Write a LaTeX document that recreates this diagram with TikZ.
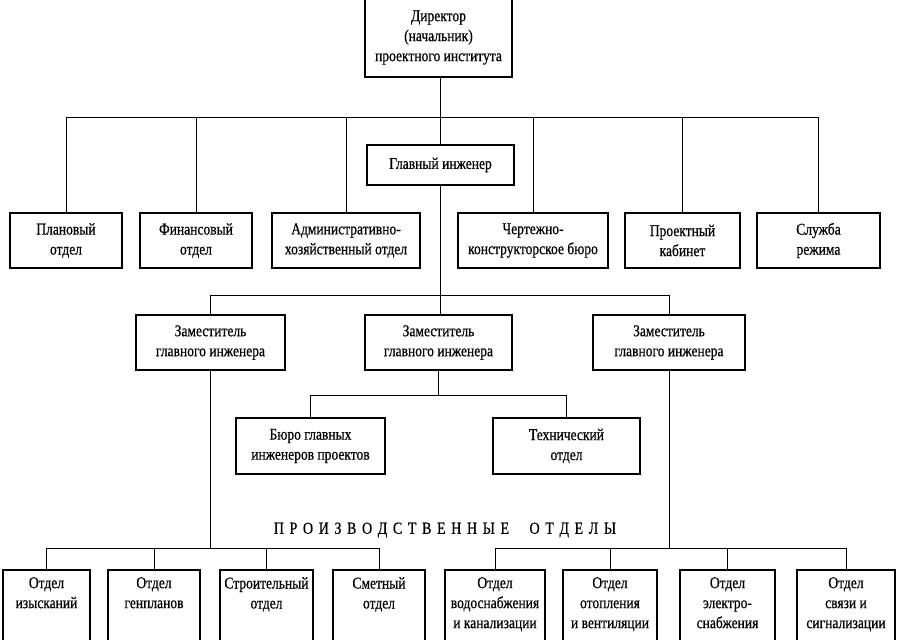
\documentclass[tikz,border=0pt]{standalone}
\usepackage{fontspec}
\setmainfont[FakeStretch=0.82,FakeBold=0.6]{Liberation Serif}
\begin{document}
\begin{tikzpicture}[x=1pt,y=-1pt,
  box/.style={draw, line width=1.1pt, align=center, inner sep=1pt, font=\fontsize{16.5}{20}\selectfont},
  txt/.style={align=center, inner sep=0pt, font=\fontsize{16.5}{20}\selectfont},
  ln/.style={line width=0.8pt}]
\useasboundingbox (0,0) rectangle (900,640);
\newcommand{\bx}[6]{\node[box, minimum width=#3-#2, minimum height=#5-#4] (#1) at ({(#2+#3)/2},{(#4+#5)/2}) {#6};}
\newcommand{\bt}[4]{\node[box, minimum width=#3-#2, minimum height=80] (#1) at ({(#2+#3)/2},610) {};
  \node[txt, anchor=north] (#1t) at ({(#2+#3)/2},577) {#4};}
\bx{dir}{365}{512}{-2}{77}{Директор\\(начальник)\\проектного института}
\bx{gi}{367}{514}{145}{185}{Главный инженер}
\bx{p1}{10}{122}{213}{268}{Плановый\\отдел}
\bx{p2}{140}{252}{213}{268}{Финансовый\\отдел}
\bx{p3}{272}{420}{213}{268}{Административно-\\хозяйственный отдел}
\bx{p4}{458}{608}{213}{268}{Чертежно-\\конструкторское бюро}
\bx{p5}{625}{740}{213}{268}{Проектный\\кабинет}
\bx{p6}{757}{880}{213}{268}{Служба\\режима}
\bx{z1}{136}{285}{315}{370}{Заместитель\\главного инженера}
\bx{z2}{365}{512}{315}{370}{Заместитель\\главного инженера}
\bx{z3}{593}{745}{315}{370}{Заместитель\\главного инженера}
\bx{b1}{236}{385}{418}{474}{Бюро главных\\инженеров проектов}
\bx{b2}{493}{640}{418}{474}{Технический\\отдел}
\bt{d1}{3}{90}{Отдел\\изысканий}
\bt{d2}{108}{200}{Отдел\\генпланов}
\bt{d3}{220}{313}{Строительный\\отдел}
\bt{d4}{333}{425}{Сметный\\отдел}
\bt{d5}{445}{545}{Отдел\\водоснабжения\\и канализации}
\bt{d6}{563}{657}{Отдел\\отопления\\и вентиляции}
\bt{d7}{680}{775}{Отдел\\электро-\\снабжения}
\bt{d8}{797}{895}{Отдел\\связи и\\сигнализации}
\node[font=\fontsize{17}{20}\selectfont] (po) at (445,530) {П\,\,Р\,\,О\,\,И\,\,З\,\,В\,\,О\,\,Д\,\,С\,\,Т\,\,В\,\,Е\,\,Н\,\,Н\,\,Ы\,\,Е\quad\ О\,\,Т\,\,Д\,\,Е\,\,Л\,\,Ы};
\coordinate (c1) at (440,77);
\coordinate (h1) at (440,117);
\draw[ln] (c1) -- (c1 |- gi.north);
\draw[ln] (c1 |- gi.south) -- (c1 |- z2.north);
\draw[ln] (p1.north) |- (p6.north |- h1) -- (p6.north);
\foreach \n in {p2,p3,p4,p5} \draw[ln] (\n.north) -- (\n.north |- h1);
\coordinate (h2) at (440,295);
\draw[ln] (z1.north) |- (z3.north |- h2) -- (z3.north);
\coordinate (h3) at (440,395);
\draw[ln] (z2.south) -- (z2.south |- h3);
\draw[ln] (b1.north) |- (b2.north |- h3) -- (b2.north);
\coordinate (h4) at (440,548);
\draw[ln] (z1.south) -- (z1.south |- h4);
\draw[ln] (z3.south) -- (z3.south |- h4);
\draw[ln] (d1.north) |- (d4.north |- h4) -- (d4.north);
\draw[ln] (d5.north) |- (d8.north |- h4) -- (d8.north);
\foreach \n in {d2,d3,d6,d7} \draw[ln] (\n.north) -- (\n.north |- h4);
\end{tikzpicture}
\end{document}
